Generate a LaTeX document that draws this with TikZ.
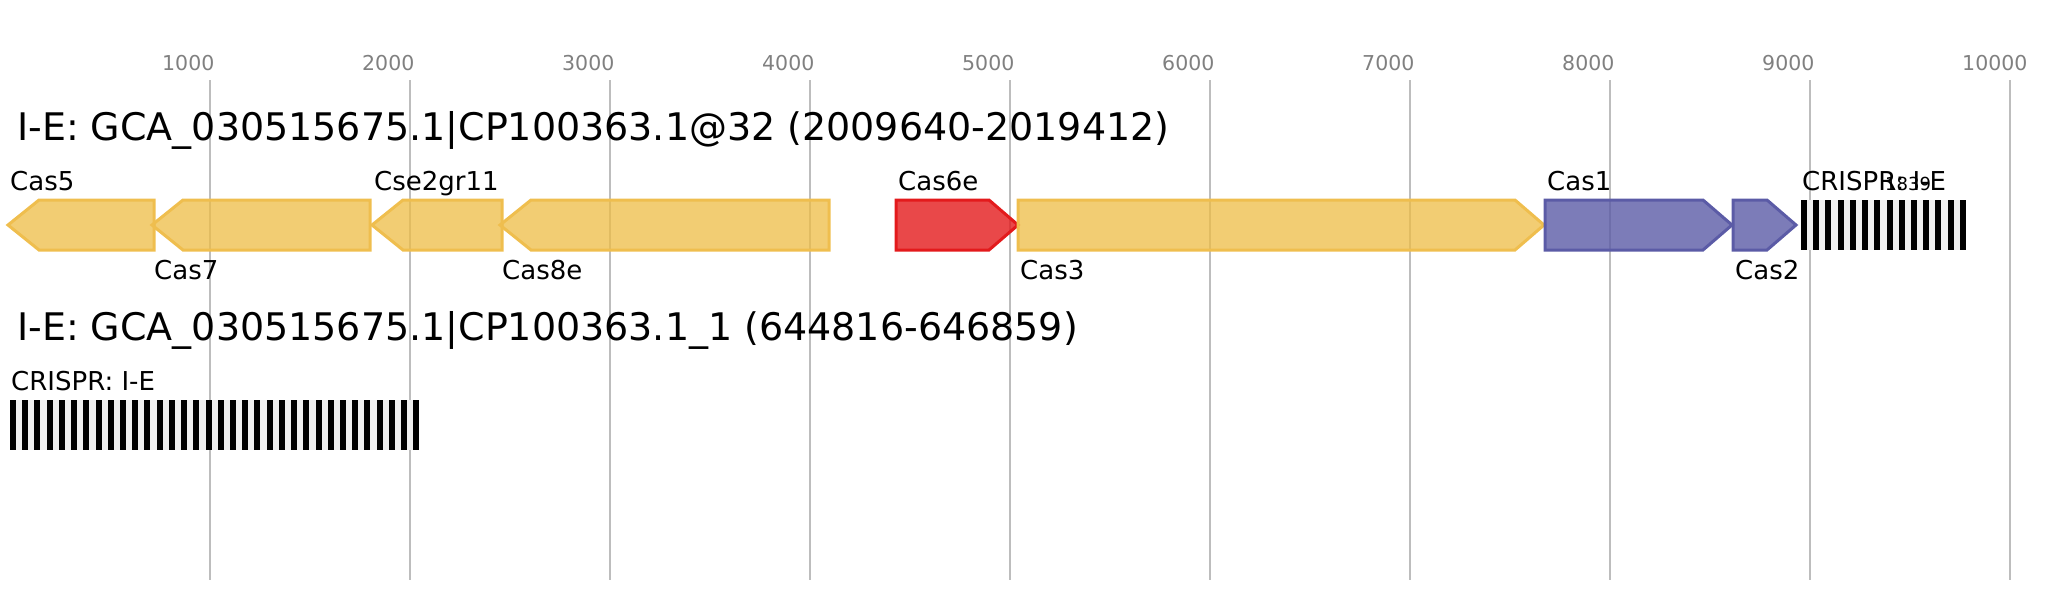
\documentclass[tikz,border=0pt]{standalone}
\usepackage{fontspec}
\setmainfont{DejaVu Sans}
\usepackage{tikz}
\usetikzlibrary{positioning}
\definecolor{yelline}{HTML}{EFBE4E}
\definecolor{yelfill}{HTML}{EEBC44}
\definecolor{redline}{HTML}{E31A1C}
\definecolor{redfill}{HTML}{E31A1C}
\definecolor{blueline}{HTML}{5B5BA6}
\definecolor{bluefill}{HTML}{5B5BA6}
\definecolor{gridgray}{HTML}{BDBDBD}
\definecolor{tickgray}{HTML}{808080}
\definecolor{spacergray}{HTML}{EFEFEF}

\begin{document}
\begin{tikzpicture}[
  x=1pt, y=-1pt,
  yel/.style={draw=yelline, fill=yelfill, fill opacity=0.75, line width=3pt},
  red/.style={draw=redline, fill=redfill, fill opacity=0.8, line width=3pt},
  blue/.style={draw=blueline, fill=bluefill, fill opacity=0.8, line width=3pt},
  gridln/.style={draw=gridgray, line width=2pt},
  ticklbl/.style={
    anchor=base west, inner sep=0pt, text=tickgray,
    font=\fontsize{20.5}{24}\selectfont
  },
  title/.style={anchor=base west, inner sep=0pt, font=\fontsize{38}{45}\selectfont},
  glbl/.style={anchor=base west, inner sep=0pt, font=\fontsize{26}{30}\selectfont},
  tiny/.style={anchor=base west, inner sep=0pt, font=\fontsize{18}{20}\selectfont}
]
  \useasboundingbox (0,0) rectangle (2054,600);
  \foreach \k in {1,...,10} {
    \draw[gridln] (10+200*\k,80) coordinate (g\k) -- (10+200*\k,580);
    \node[ticklbl] (t\k) at (10+200*\k-48,70) {\k000};
  }
  \node[title] (hdr1) at (17,140) {I-E: GCA\_030515675.1|CP100363.1@32 (2009640-2019412)};
  \node[title] (hdr2) at (17,340) {I-E: GCA\_030515675.1|CP100363.1\_1 (644816-646859)};
  % genes pointing left
  \foreach \nm/\l/\r/\y in {Cas5/8/154/190,Cas7/152/370/279,Cse2gr11/372/502/190,Cas8e/500/829/279} {
    \draw[yel] (\r,200) -- (\l+31,200) -- (\l,225) -- (\l+31,250) -- (\r,250) -- cycle;
    \node[glbl] (\nm) at (\l+2,\y) {\nm};
  }
  % genes pointing right
  \foreach \nm/\l/\r/\y/\s in {Cas6e/896/1018/190/red,Cas3/1018/1544/279/yel,Cas1/1545/1732/190/blue,Cas2/1733/1796/279/blue} {
    \draw[\s] (\l,200) -- (\r-29,200) -- (\r,225) -- (\r-29,250) -- (\l,250) -- cycle;
    \node[glbl] (\nm) at (\l+2,\y) {\nm};
  }
  % CRISPR arrays
  \fill[spacergray] (1801,200) rectangle (1966,250);
  \foreach \i in {0,...,13}
    \fill[black] (1801+12.22*\i,200) rectangle (1807+12.22*\i,250);
  \node[glbl] (arr1) at (1802,190) {CRISPR: I-E};
  \node[tiny] (arr1n) at (1885,190) {1839};
  \fill[spacergray] (10,400) rectangle (419,450);
  \foreach \i in {0,...,33}
    \fill[black] (10+12.22*\i,400) rectangle (16+12.22*\i,450);
  \node[glbl] (arr2) at (11,390) {CRISPR: I-E};
\end{tikzpicture}
\end{document}
